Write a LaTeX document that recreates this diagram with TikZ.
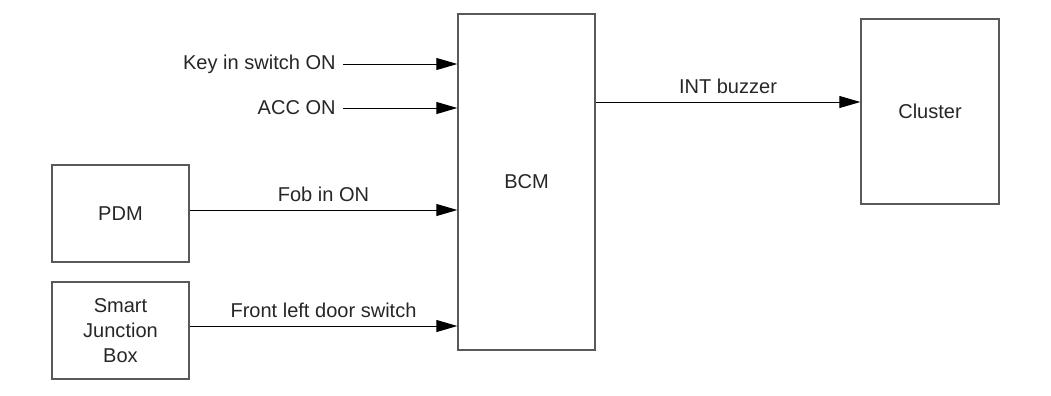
\documentclass[tikz,border=0pt]{standalone}
\usepackage{fontspec}
\setmainfont{Liberation Sans}
\usetikzlibrary{
    arrows.meta,
    positioning
}

\begin{document}
\begin{tikzpicture}[
        font=\fontsize{11.4}{14.2}\selectfont,
        unit/.style={
            draw=black!65,
            line width=0.8pt,
            align=center,
            text=black!85,
            minimum width=2.74cm
        },
        sig/.style={
            -{Triangle[length=0.42cm,width=0.24cm]},
            line width=0.55pt
        },
        siglabel/.style={
            text=black!85,
            inner sep=4.5pt
        }
    ]
    \useasboundingbox (0,0) rectangle (21.02,-7.9);

    \node[unit, minimum height=6.72cm] (bcm) at (10.53,-3.64) {BCM};
    \node[unit, minimum width=2.76cm, minimum height=3.7cm] (cluster) at (18.6,-2.23) {Cluster};
    \node[unit, minimum height=1.94cm] (pdm) at (2.41,-4.27) {PDM};
    \node[unit, minimum height=1.94cm] (sjb) at (2.41,-6.61) {Smart\\Junction\\Box};

    % plain inputs
    \node[siglabel, anchor=east, inner xsep=4pt, inner ysep=1pt] (key) at (6.86,-1.28) {Key in switch ON};
    \node[siglabel, anchor=east, inner xsep=4pt, inner ysep=1pt] (acc) at (6.86,-2.16) {ACC ON};

    \coordinate (fobout) at ([yshift=0.07cm]pdm.east);
    \coordinate (doorout) at ([yshift=0.09cm]sjb.east);
    \coordinate (buzzin) at ([yshift=0.19cm]cluster.west);

    \draw[sig] (key.east) -- (key.east -| bcm.west);
    \draw[sig] (acc.east) -- (acc.east -| bcm.west);
    \draw[sig] (fobout) -- (fobout -| bcm.west)
        node[siglabel, midway, above] (fob) {Fob in ON};
    \draw[sig] (doorout) -- (doorout -| bcm.west)
        node[siglabel, midway, above] (door) {Front left door switch};
    \draw[sig] (bcm.east |- buzzin) -- (buzzin)
        node[siglabel, midway, above] (buzz) {INT buzzer};

\end{tikzpicture}
\end{document}
